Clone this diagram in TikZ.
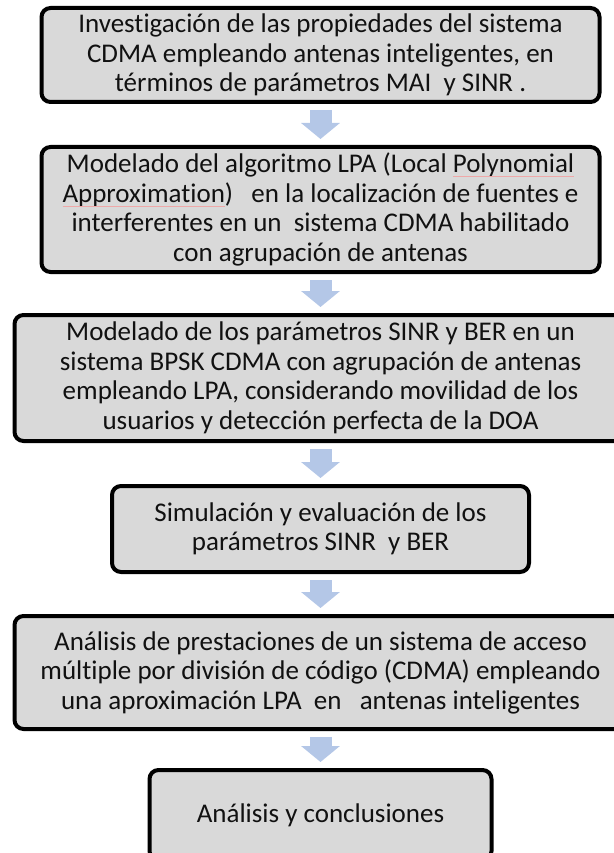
\documentclass[tikz,border=0pt]{standalone}
\usepackage{fontspec}
\setmainfont{Carlito}[Ligatures={NoCommon}]
\usetikzlibrary{arrows.meta}
\definecolor{boxfill}{HTML}{D9D9D9}
\definecolor{flowblue}{HTML}{B4C7E7}
\definecolor{ink}{HTML}{111111}
\definecolor{spellred}{HTML}{EFA8A8}
% word with a thin reddish underline
\newcommand\spellmark[1]{\setbox0\hbox{#1}\copy0\llap{\color{spellred}\rule[-4pt]{\wd0}{0.7pt}}}
\begin{document}
\begin{tikzpicture}[x=1pt,y=-1pt,
  stagebox/.style={draw=black, line width=4pt, fill=boxfill, rounded corners=9pt,
    inner sep=0pt, align=center, text=ink,
    font=\fontsize{27}{29.5}\selectfont},
  flowarrow/.style={draw=flowblue, line width=22pt,
    -{Triangle[length=16pt,width=38pt]}, shorten <=6pt, shorten >=6pt}]
\useasboundingbox (0,0) rectangle (613,853);

\node[stagebox, minimum width=558pt, minimum height=94pt] (b1) at (320.5,55)
  {Investigación de las propiedades del sistema\\
   CDMA empleando antenas inteligentes, en\\
   términos de parámetros MAI\ \ y SINR .};

\node[stagebox, minimum width=558pt, minimum height=125pt] (b2) at (320.5,209.5)
  {Modelado del algoritmo LPA (Local \spellmark{Polynomial}\\
   \spellmark{Approximation})\ \ \ en la localización de fuentes e\\
   interferentes en un\ \ sistema CDMA habilitado\\
   con agrupación de antenas};

\node[stagebox, minimum width=612pt, minimum height=126pt] (b3) at (320.5,378)
  {Modelado de los parámetros SINR y BER en un\\
   sistema BPSK CDMA con agrupación de antenas\\
   empleando LPA, considerando movilidad de los\\
   usuarios y detección perfecta de la DOA};

\node[stagebox, minimum width=417pt, minimum height=86pt] (b4) at (320.5,529)
  {Simulación y evaluación de los\\
   parámetros SINR\ \ y BER};

\node[stagebox, minimum width=612pt, minimum height=113pt] (b5) at (320.5,672.5)
  {Análisis de prestaciones de un sistema de acceso\\
   múltiple por división de código (CDMA) empleando\\
   una aproximación LPA\ \ en\ \ \ antenas inteligentes};

\node[stagebox, minimum width=342pt, minimum height=90pt] (b6) at (320.5,815)
  {Análisis y conclusiones};

\draw[flowarrow] (b1.south) -- (b2.north);
\draw[flowarrow] (b2.south) -- (b3.north);
\draw[flowarrow] (b3.south) -- (b4.north);
\draw[flowarrow] (b4.south) -- (b5.north);
\draw[flowarrow] (b5.south) -- (b6.north);
\end{tikzpicture}
\end{document}
